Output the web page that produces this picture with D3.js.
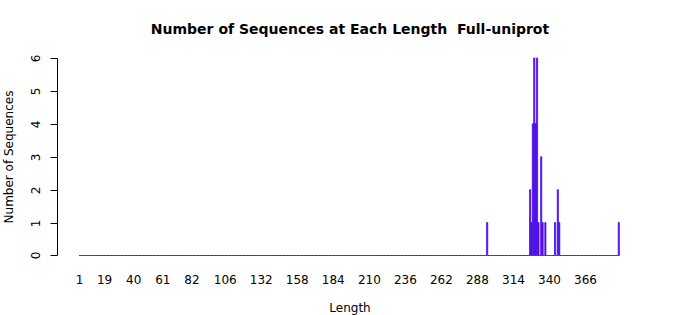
<!DOCTYPE html>
<html>
<head>
<meta charset="utf-8">
<script src="https://cdn.jsdelivr.net/npm/d3@7"></script>
<style>
  body { margin: 0; background: #fff; }
  text { font-family: "DejaVu Sans", sans-serif; fill: #000; white-space: pre; }
</style>
</head>
<body>
<svg id="chart" width="700" height="315"></svg>
<script>
// sequence lengths 1..390, counts (all others 0)
const maxLength = 390;
const peakLengths = [295, 326, 327, 328, 329, 330, 331, 332, 334, 335, 337, 344, 346, 347, 390];
const peakCounts  = [1,   2,   1,   4,   6,   4,   6,   1,   3,   1,   1,   1,   2,   1,   1];
const xTickLabels = [1, 19, 40, 61, 82, 106, 132, 158, 184, 210, 236, 262, 288, 314, 340, 366];
const yTicks = [0, 1, 2, 3, 4, 5, 6];

const lengths = d3.range(1, maxLength + 1);
const countOf = new Map(peakLengths.map((l, i) => [l, peakCounts[i]]));
const bars = lengths.map(l => ({ len: l, n: countOf.get(l) || 0 }));

const svg = d3.select('#chart');

const x = d3.scaleBand()
  .domain(lengths)
  .range([79, 619.5])
  .paddingInner(0.17)
  .paddingOuter(0.08);

const y = d3.scaleLinear().domain([0, 6]).range([255.5, 58]);

// title
svg.append('text')
  .attr('x', 350).attr('y', 34)
  .attr('text-anchor', 'middle')
  .attr('font-size', '14px').attr('font-weight', 'bold')
  .attr('xml:space', 'preserve')
  .text('Number of Sequences at Each Length  Full-uniprot');

// bars (paths so zero-height bars still draw their border)
svg.append('g').selectAll('path').data(bars).join('path')
  .attr('d', d => {
    const x0 = x(d.len), x1 = x(d.len) + x.bandwidth();
    return `M${x0},${y(0)}H${x1}V${y(d.n)}H${x0}Z`;
  })
  .attr('fill', '#7000d0')
  .attr('stroke', d => d.n ? '#4010ec' : '#2a2aff')
  .attr('stroke-width', d => d.n ? 0.8 : 1);

// y axis, R style: line from first to last tick, ticks outward
const yAxis = svg.append('g').attr('transform', 'translate(57.5,0)');
yAxis.append('line')
  .attr('x1', 0).attr('x2', 0)
  .attr('y1', Math.round(y(6)) + 0.5).attr('y2', Math.round(y(0)) - 0.5)
  .attr('stroke', '#000');
const yt = yAxis.selectAll('g').data(yTicks).join('g')
  .attr('transform', d => `translate(0,${Math.round(y(d)) + (d ? 0.5 : -0.5)})`);
yt.append('line').attr('x1', -7).attr('x2', 0).attr('stroke', '#000');
yt.append('text')
  .attr('transform', 'translate(-17.5,0) rotate(-90)')
  .attr('text-anchor', 'middle')
  .attr('font-size', '12px')
  .text(d => d);

svg.append('text')
  .attr('transform', 'translate(12.5,157) rotate(-90)')
  .attr('text-anchor', 'middle')
  .attr('font-size', '12px')
  .text('Number of Sequences');

// x tick labels (no axis line)
svg.append('g').selectAll('text').data(xTickLabels).join('text')
  .attr('x', d => x(d) + x.bandwidth() / 2)
  .attr('y', 284)
  .attr('text-anchor', 'middle')
  .attr('font-size', '12px')
  .text(d => d);

svg.append('text')
  .attr('x', 350).attr('y', 312)
  .attr('text-anchor', 'middle')
  .attr('font-size', '12px')
  .text('Length');
</script>
</body>
</html>
